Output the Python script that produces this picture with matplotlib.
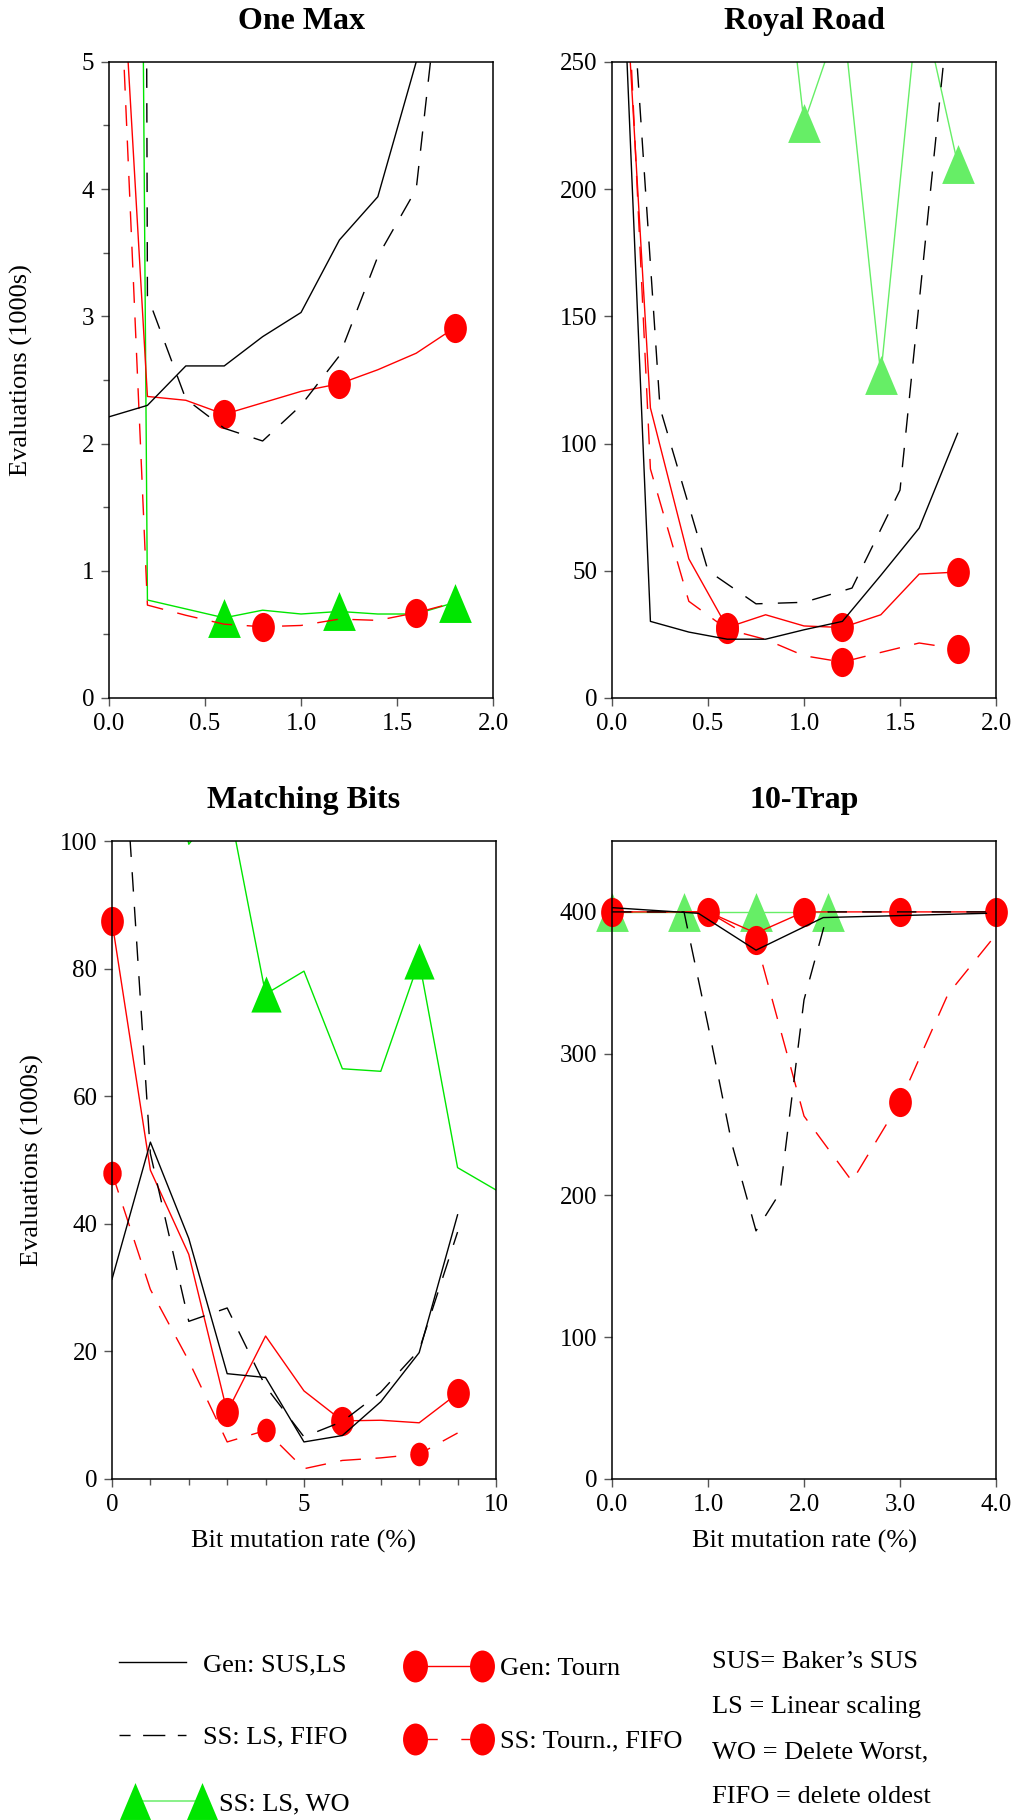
import numpy as np
import matplotlib
matplotlib.use('Agg')
import matplotlib.pyplot as plt
from matplotlib.path import Path
from matplotlib.transforms import Affine2D
from matplotlib.lines import Line2D
from matplotlib.ticker import MultipleLocator, FormatStrFormatter

# ---- One Max (evaluations, 1000s) ----
onemax_x = [0.0, 0.2, 0.4, 0.6, 0.8, 1.0, 1.2, 1.4, 1.6, 1.8]
onemax_gen_sus = [2.21, 2.30, 2.61, 2.61, 2.84, 3.03, 3.60, 3.94, 5.0, 6.5]
onemax_ss_fifo = [100, 3.16, 2.35, 2.12, 2.02, 2.30, 2.69, 3.47, 4.00, 6.7]
onemax_gen_tourn = [7.6, 2.37, 2.34, 2.23, 2.32, 2.41, 2.47, 2.58, 2.71, 2.91]
onemax_ss_tourn = [7.7, 0.73, 0.65, 0.58, 0.56, 0.57, 0.62, 0.61, 0.67, 0.75]
onemax_ss_wo = [41, 0.77, 0.70, 0.63, 0.69, 0.66, 0.68, 0.66, 0.66, 0.75]

# ---- Royal Road ----
royal_x = [0.0, 0.2, 0.4, 0.6, 0.8, 1.0, 1.2, 1.4, 1.6, 1.8]
royal_fifo_x = [0.0, 0.25, 0.5, 0.75, 1.0, 1.25, 1.5, 1.75]
royal_gen_sus = [391, 30.1, 25.9, 23.1, 23.1, 26.8, 30.1, 48.2, 66.8, 104]
royal_ss_fifo = [397, 114, 50, 37, 37.6, 43.2, 81.7, 267]
royal_gen_tourn = [373, 114, 54.7, 27.7, 32.7, 28.3, 27.7, 32.7, 48.7, 49.5]
royal_ss_tourn = [410, 90, 38, 27, 23, 16.6, 14.1, 17.9, 21.6, 19.3]
royal_ss_wo = [500, 480, 450, 400, 359, 226, 270, 127, 278, 210]

# ---- Matching Bits ----
bits_x = [0, 1, 2, 3, 4, 5, 6, 7, 8, 9]
bits_wo_x = [0, 1, 2, 3, 4, 5, 6, 7, 8, 9, 10]
bits_gen_sus = [31.3, 52.8, 37.7, 16.5, 15.9, 5.8, 6.8, 12.1, 19.8, 41.4]
bits_ss_fifo = [144, 51, 24.7, 26.8, 14.5, 6.6, 9.0, 13.6, 20.2, 38.7]
bits_gen_tourn = [87.4, 48.4, 35.2, 10.5, 22.4, 13.8, 9.1, 9.2, 8.8, 13.4]
bits_ss_tourn = [48.0, 29.7, 18.5, 5.8, 7.6, 1.6, 2.9, 3.3, 3.9, 7.2]
bits_ss_wo = [150, 130, 99.5, 107, 76, 79.6, 64.3, 63.9, 81.2, 48.8, 45.3]

# ---- 10-Trap ----
trap_sus_x = [0.0, 0.9, 1.5, 2.2, 3.9]
trap_gen_sus = [403, 399, 373, 396, 399]
trap_fifo_x = [0.0, 0.25, 0.5, 0.75, 1.0, 1.25, 1.5, 1.75, 2.0, 2.25, 2.5, 2.75, 3.0, 3.25, 3.5, 3.75, 4.0]
trap_ss_fifo = [400, 400, 400, 400, 320, 236, 175, 202, 338, 400, 400, 400, 400, 400, 400, 400, 400]
trap_tourn_x = [0.0, 0.5, 1.0, 1.5, 2.0, 2.5, 3.0, 3.5, 4.0]
trap_gen_tourn = [400, 400, 400, 385, 400, 400, 400, 400, 400]
trap_ss_tourn = [400, 400, 400, 380, 256, 210, 266, 342, 384]
trap_wo_x = [0.0, 0.75, 1.5, 2.25]
trap_ss_wo = [400, 400, 400, 400]

legend_labels_1 = ['Gen: SUS,LS', 'SS: LS, FIFO']
legend_label_wo = ['SS: LS, WO']
legend_labels_2 = ['Gen: Tourn', 'SS: Tourn., FIFO']
notes = ['SUS= Baker\u2019s SUS', 'LS = Linear scaling', 'WO = Delete Worst,', 'FIFO = delete oldest']

plt.rcParams['font.family'] = 'Liberation Serif'
RED = '#ff0000'
GREEN = '#00e600'
LIGHT_GREEN = '#66ee66'

# tall ellipse / tall triangle markers as in the original drawing
ellipse = Path.unit_circle().transformed(Affine2D().scale(0.78, 1.0))
triangle = Path([(-0.84, -1), (0.84, -1), (0, 1), (-0.84, -1)], closed=True)

DASH_BLACK = (0, (14, 11))
DASH_RED = (0, (15, 10.5))


def series(ax, x, y, color, ls, lw, marker=None, ms=0, idx=None):
    ax.plot(x, y, color=color, linestyle=ls, lw=lw)
    if marker is not None and idx:
        xs = np.asarray(x, dtype=float)[idx]
        ys = np.asarray(y, dtype=float)[idx]
        ax.plot(xs, ys, linestyle='none', marker=marker, ms=ms, mfc=color,
                mec='none', clip_on=False)


def style_axes(ax, title, xlim, ylim, xmaj, ymaj, xfmt, xmin=None, ymin=None, yticks_top=None):
    ax.set_xlim(*xlim)
    ax.set_ylim(*ylim)
    ax.xaxis.set_major_locator(MultipleLocator(xmaj))
    ax.yaxis.set_major_locator(MultipleLocator(ymaj))
    if xmin:
        ax.xaxis.set_minor_locator(MultipleLocator(xmin))
    if ymin:
        ax.yaxis.set_minor_locator(MultipleLocator(ymin))
    if yticks_top is not None:
        ax.set_yticks(np.arange(ylim[0], yticks_top + 1, ymaj))
    ax.xaxis.set_major_formatter(FormatStrFormatter(xfmt))
    ax.yaxis.set_major_formatter(FormatStrFormatter('%d'))
    ax.tick_params(which='major', direction='out', length=6, width=1, color='#555555',
                   labelsize=18, pad=4.5)
    ax.tick_params(which='minor', direction='out', length=4, width=1, color='#555555')
    for sp in ax.spines.values():
        sp.set_linewidth(1.1)
        sp.set_color('black')
    ax.set_title(title, fontsize=23, fontweight='bold', pad=24)


fig = plt.figure(figsize=(10.18, 18.2), dpi=100)
ax1 = fig.add_axes([0.1071, 0.6165, 0.3772, 0.3495])
ax2 = fig.add_axes([0.6012, 0.6165, 0.3772, 0.3495])
ax3 = fig.add_axes([0.1100, 0.1874, 0.3772, 0.3505])
ax4 = fig.add_axes([0.6012, 0.1874, 0.3772, 0.3505])

# One Max
series(ax1, onemax_x, onemax_ss_wo, GREEN, '-', 1.0, triangle, 28, [3, 6, 9])
series(ax1, onemax_x, onemax_ss_tourn, RED, DASH_RED, 1.0, ellipse, 21, [4, 8])
series(ax1, onemax_x, onemax_gen_tourn, RED, '-', 1.0, ellipse, 21, [3, 6, 9])
series(ax1, onemax_x, onemax_ss_fifo, 'black', DASH_BLACK, 1.0)
series(ax1, onemax_x, onemax_gen_sus, 'black', '-', 1.0)
style_axes(ax1, 'One Max', (0, 2), (0, 5), 0.5, 1, '%.1f', ymin=0.5)

# Royal Road
series(ax2, royal_x, royal_ss_wo, LIGHT_GREEN, '-', 1.0, triangle, 28, [5, 7, 9])
series(ax2, royal_x, royal_ss_tourn, RED, DASH_RED, 1.0, ellipse, 21, [3, 6, 9])
series(ax2, royal_x, royal_gen_tourn, RED, '-', 1.0, ellipse, 21, [3, 6, 9])
series(ax2, royal_fifo_x, royal_ss_fifo, 'black', DASH_BLACK, 1.0)
series(ax2, royal_x, royal_gen_sus, 'black', '-', 1.0)
style_axes(ax2, 'Royal Road', (0, 2), (0, 250), 0.5, 50, '%.1f')

# Matching Bits
series(ax3, bits_wo_x, bits_ss_wo, GREEN, '-', 1.0, triangle, 26, [4, 8])
series(ax3, bits_x, bits_ss_tourn, RED, DASH_RED, 1.0, ellipse, 17, [0, 4, 8])
series(ax3, bits_x, bits_gen_tourn, RED, '-', 1.0, ellipse, 21, [0, 3, 6, 9])
series(ax3, bits_x, bits_ss_fifo, 'black', DASH_BLACK, 1.0)
series(ax3, bits_x, bits_gen_sus, 'black', '-', 1.0)
style_axes(ax3, 'Matching Bits', (0, 10), (0, 100), 5, 20, '%d', xmin=1)

# 10-Trap
series(ax4, trap_wo_x, trap_ss_wo, LIGHT_GREEN, '-', 1.0, triangle, 28, [0, 1, 2, 3])
series(ax4, trap_tourn_x, trap_ss_tourn, RED, DASH_RED, 1.0, ellipse, 21, [3, 6])
series(ax4, trap_tourn_x, trap_gen_tourn, RED, '-', 1.0, ellipse, 21, [0, 2, 4, 6, 8])
series(ax4, trap_fifo_x, trap_ss_fifo, 'black', DASH_BLACK, 1.0)
series(ax4, trap_sus_x, trap_gen_sus, 'black', '-', 1.0)
style_axes(ax4, '10-Trap', (0, 4), (0, 450), 1, 100, '%.1f', yticks_top=400)

ax1.set_ylabel('Evaluations (1000s)', fontsize=19, va='center')
ax1.yaxis.set_label_coords(-0.227, 0.516)
ax3.set_ylabel('Evaluations (1000s)', fontsize=19, va='center')
ax3.yaxis.set_label_coords(-0.208, 0.5)
for ax in (ax3, ax4):
    ax.set_xlabel('Bit mutation rate (%)', fontsize=19, va='center')
    ax.xaxis.set_label_coords(0.5, -0.0987)

# legend
leg_kw = dict(loc='upper left', frameon=False, prop={'size': 19}, numpoints=2,
              handlelength=3.14, borderpad=0, borderaxespad=0)
h1 = [Line2D([], [], color='black', lw=1.0),
      Line2D([], [], color='black', lw=1.0, linestyle=(8, (16, 9)))]
h_wo = [Line2D([], [], color='#80f080', lw=1.3, marker=triangle, ms=26.6, mfc=GREEN, mec='none')]
h2 = [Line2D([], [], color=RED, lw=1.0, marker=ellipse, ms=23, mfc=RED, mec='none'),
      Line2D([], [], color=RED, lw=1.0, linestyle=(0, (16, 17)), marker=ellipse, ms=23,
             mfc=RED, mec='none')]
fig.legend(h1, legend_labels_1, bbox_to_anchor=(111 / 1018, 1 - 1653 / 1820),
           handletextpad=0.35, labelspacing=1.85, **leg_kw)
fig.legend(h_wo, legend_label_wo, bbox_to_anchor=(127 / 1018, 1 - 1792 / 1820),
           handletextpad=0.35, **leg_kw)
fig.legend(h2, legend_labels_2, bbox_to_anchor=(407 / 1018, 1 - 1657 / 1820),
           handletextpad=0.38, labelspacing=1.85, **leg_kw)

for i, note in enumerate(notes):
    fig.text(712 / 1018, 1 - (1662 + 45 * i) / 1820, note, fontsize=19,
             va='center', ha='left')

fig.savefig('out.png', dpi=100, facecolor='white')
